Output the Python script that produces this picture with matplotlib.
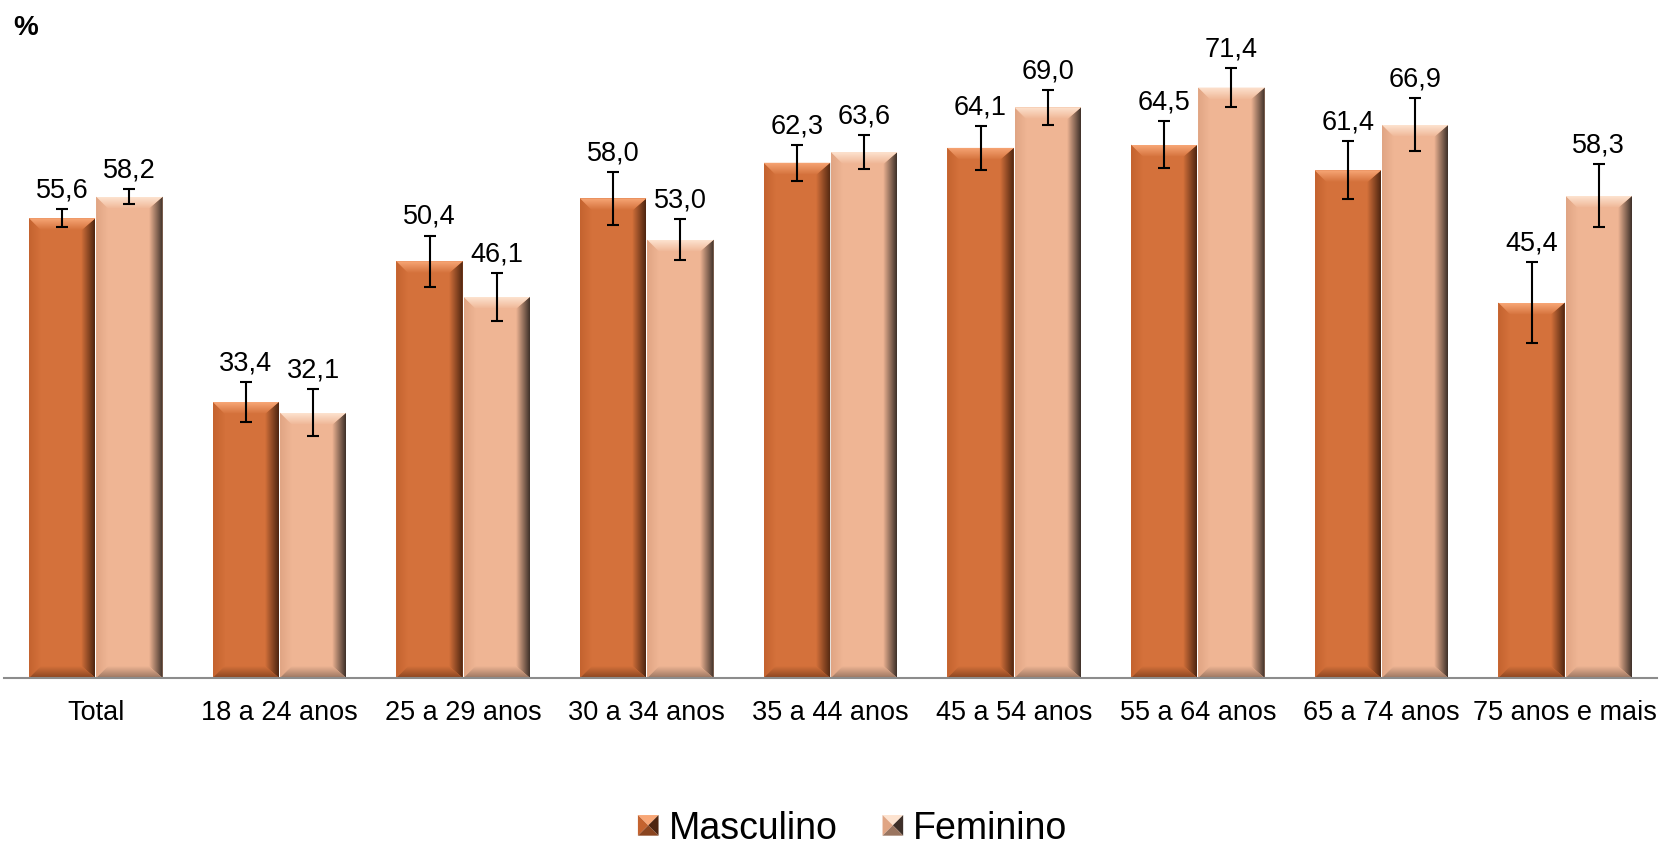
import numpy as np
import matplotlib
matplotlib.use("Agg")
import matplotlib.pyplot as plt
from matplotlib.patches import Polygon, Rectangle
from matplotlib.legend_handler import HandlerPatch
from matplotlib.colors import to_rgb

plt.rcParams["font.family"] = ["Liberation Sans", "DejaVu Sans"]

categories = ["Total", "18 a 24 anos", "25 a 29 anos", "30 a 34 anos", "35 a 44 anos",
              "45 a 54 anos", "55 a 64 anos", "65 a 74 anos", "75 anos e mais"]
masculino = [55.6, 33.4, 50.4, 58.0, 62.3, 64.1, 64.5, 61.4, 45.4]
feminino = [58.2, 32.1, 46.1, 53.0, 63.6, 69.0, 71.4, 66.9, 58.3]
err_masc = [1.1, 2.4, 3.1, 3.2, 2.2, 2.7, 2.8, 3.5, 4.9]
err_fem = [0.9, 2.8, 2.9, 2.5, 2.0, 2.1, 2.4, 3.2, 3.8]

# base, light (top), dark (right edge), side (left), bottom
pal_m = dict(base="#D4713B", light="#F8A777", dark="#4E2510", left="#C4632F", bottom="#8A4520")
pal_f = dict(base="#EFB594", light="#FDE3D0", dark="#3E3029", left="#E0A584", bottom="#9A7560")

W, H, DPI = 16.59, 8.49, 100
fig = plt.figure(figsize=(W, H), dpi=DPI, facecolor="white")
ax = fig.add_axes([4 / 1659, 171 / 849, 1653 / 1659, 661.6 / 849])
ax.set_xlim(-0.5, len(categories) - 0.5)
ax.set_ylim(0, 80)

x = np.arange(len(categories))
bw = 0.362
off = 0.183

bars_m = ax.bar(x - off, masculino, bw, color=pal_m["base"], zorder=2)
bars_f = ax.bar(x + off, feminino, bw, color=pal_f["base"], zorder=2)

# pixel -> data conversions for bevel size
bbox = ax.get_window_extent()
px_x = (len(categories)) / bbox.width
px_y = 80 / bbox.height


def grad_poly(verts, c0, c1, direction):
    verts = np.array(verts)
    xmin, xmax = verts[:, 0].min(), verts[:, 0].max()
    ymin, ymax = verts[:, 1].min(), verts[:, 1].max()
    t = np.linspace(0, 1, 64)
    a, b = np.array(to_rgb(c0)), np.array(to_rgb(c1))
    cols = a[None, :] * (1 - t[:, None]) + b[None, :] * t[:, None]
    if direction == "h":
        img = cols[None, :, :]
    else:
        img = cols[:, None, :]
    poly = Polygon(verts, closed=True, facecolor="none", edgecolor="none")
    ax.add_patch(poly)
    im = ax.imshow(img, extent=(xmin, xmax, ymin, ymax), origin="lower",
                   aspect="auto", interpolation="bilinear", zorder=3)
    im.set_clip_path(poly)


def bevel(rect, pal):
    x0, w, h = rect.get_x(), rect.get_width(), rect.get_height()
    bx, by = 12 * px_x, 12 * px_y
    bxr = 14 * px_x
    x1 = x0 + w
    # left side
    grad_poly([(x0, h), (x0 + bx, h - by), (x0 + bx, by), (x0, 0)], pal["left"], pal["base"], "h")
    # right side
    grad_poly([(x1, h), (x1, 0), (x1 - bxr, by), (x1 - bxr, h - by)], pal["base"], pal["dark"], "h")
    # bottom
    grad_poly([(x0, 0), (x1, 0), (x1 - bxr, by), (x0 + bx, by)], pal["bottom"], pal["base"], "v")
    # top
    grad_poly([(x0, h), (x1, h), (x1 - bxr, h - by), (x0 + bx, h - by)], pal["base"], pal["light"], "v")


for r in bars_m:
    bevel(r, pal_m)
for r in bars_f:
    bevel(r, pal_f)

ax.set_xlim(-0.5, len(categories) - 0.5)
ax.set_ylim(0, 80)

ax.errorbar(x - off, masculino, yerr=err_masc, fmt="none", ecolor="black",
            elinewidth=1.5, capsize=4.5, capthick=1.5, zorder=5)
ax.errorbar(x + off, feminino, yerr=err_fem, fmt="none", ecolor="black",
            elinewidth=1.5, capsize=4.5, capthick=1.5, zorder=5)

for xi, v, e in zip(x - off, masculino, err_masc):
    ax.annotate(f"{v:.1f}".replace(".", ","), (xi, v + e), xytext=(0, 4),
                textcoords="offset points", ha="center", va="bottom", fontsize=19.5, zorder=6)
for xi, v, e in zip(x + off, feminino, err_fem):
    ax.annotate(f"{v:.1f}".replace(".", ","), (xi, v + e), xytext=(0, 4),
                textcoords="offset points", ha="center", va="bottom", fontsize=19.5, zorder=6)

for s in ["top", "right", "left"]:
    ax.spines[s].set_visible(False)
ax.spines["bottom"].set_color("#8C8C8C")
ax.spines["bottom"].set_linewidth(1.5)
ax.spines["bottom"].set_zorder(4)
ax.set_yticks([])
ax.set_xticks(x)
ax.set_xticklabels(categories, fontsize=19.5)
ax.tick_params(axis="x", length=0, pad=16)

fig.text(0.008, 0.982, "%", fontsize=20, fontweight="bold", ha="left", va="top")


class PyramidHandler(HandlerPatch):
    def __init__(self, pal):
        super().__init__()
        self.pal = pal

    def create_artists(self, legend, orig_handle, xdescent, ydescent, width, height, fontsize, trans):
        s = min(width, height)
        x0, y0 = -xdescent + (width - s) / 2, -ydescent + (height - s) / 2
        cx, cy = x0 + s / 2, y0 + s / 2
        p = self.pal
        tris = [
            ([(x0, y0 + s), (x0 + s, y0 + s), (cx, cy)], p["light"]),
            ([(x0, y0), (x0, y0 + s), (cx, cy)], p["left"]),
            ([(x0 + s, y0), (x0 + s, y0 + s), (cx, cy)], p["dark"]),
            ([(x0, y0), (x0 + s, y0), (cx, cy)], p["bottom"]),
        ]
        return [Polygon(v, closed=True, facecolor=c, edgecolor="none", transform=trans)
                for v, c in tris]


h_m = Rectangle((0, 0), 1, 1, facecolor=pal_m["base"])
h_f = Rectangle((0, 0), 1, 1, facecolor=pal_f["base"])
fig.legend([h_m, h_f], ["Masculino", "Feminino"], loc="center", bbox_to_anchor=(0.514, 0.024),
           ncol=2, frameon=False, fontsize=27, handlelength=0.55, handleheight=0.55,
           handletextpad=0.27, columnspacing=1.2, borderpad=0.1,
           handler_map={h_m: PyramidHandler(pal_m), h_f: PyramidHandler(pal_f)})

fig.savefig("out.png", dpi=DPI, facecolor="white")
